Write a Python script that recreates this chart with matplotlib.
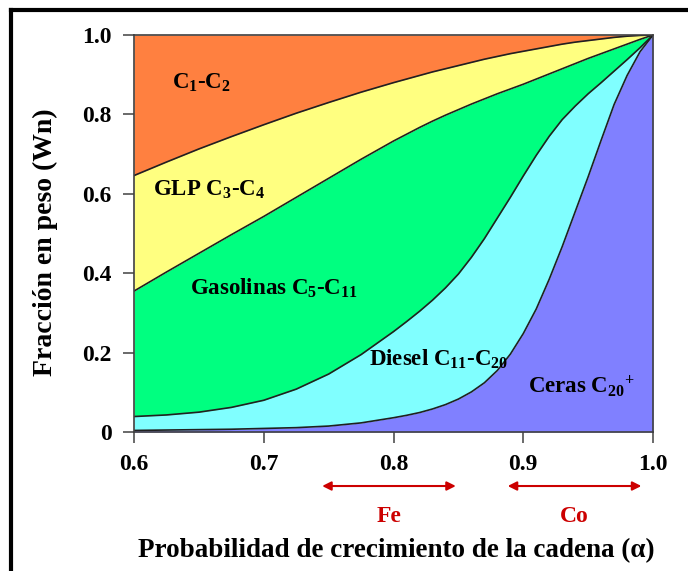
import matplotlib
matplotlib.use('Agg')
import matplotlib.pyplot as plt
from matplotlib.lines import Line2D
import matplotlib.transforms as mtransforms

plt.rcParams['font.family'] = ['Liberation Serif', 'DejaVu Serif']
plt.rcParams['font.weight'] = 'bold'
plt.rcParams['mathtext.fontset'] = 'custom'
plt.rcParams['mathtext.rm'] = 'Liberation Serif:bold'
plt.rcParams['mathtext.bf'] = 'Liberation Serif:bold'
plt.rcParams['mathtext.default'] = 'bf'

# chain growth probability (alpha)
alpha = [0.600, 0.625, 0.650, 0.675, 0.700, 0.725, 0.750, 0.775, 0.800,
         0.810, 0.820, 0.830, 0.840, 0.850, 0.860, 0.870, 0.880, 0.890, 0.900,
         0.910, 0.920, 0.930, 0.940, 0.950, 0.960, 0.970, 0.980, 0.990, 1.000]
# cumulative weight fraction boundaries
top_glp = [0.646, 0.680, 0.713, 0.744, 0.774, 0.803, 0.830, 0.856, 0.880,
           0.889, 0.898, 0.907, 0.915, 0.923, 0.931, 0.939, 0.946, 0.953, 0.959,
           0.965, 0.971, 0.977, 0.982, 0.986, 0.990, 0.994, 0.997, 0.999, 1.000]
top_gasol = [0.355, 0.403, 0.450, 0.497, 0.543, 0.591, 0.639, 0.687, 0.733,
             0.750, 0.767, 0.783, 0.798, 0.812, 0.826, 0.839, 0.852, 0.864, 0.876,
             0.889, 0.902, 0.915, 0.928, 0.941, 0.953, 0.965, 0.977, 0.989, 1.000]
top_diesel = [0.039, 0.043, 0.050, 0.062, 0.080, 0.108, 0.146, 0.195, 0.253,
              0.278, 0.304, 0.332, 0.363, 0.398, 0.440, 0.487, 0.539, 0.591, 0.645,
              0.697, 0.745, 0.787, 0.821, 0.852, 0.880, 0.909, 0.938, 0.968, 1.000]
top_ceras = [0.004, 0.005, 0.006, 0.007, 0.009, 0.011, 0.015, 0.023, 0.036,
             0.042, 0.049, 0.058, 0.069, 0.083, 0.101, 0.124, 0.155, 0.196, 0.248,
             0.310, 0.385, 0.467, 0.555, 0.643, 0.735, 0.825, 0.898, 0.958, 1.000]

x_ticks = [0.6, 0.7, 0.8, 0.9, 1.0]
x_tick_labels = ['0.6', '0.7', '0.8', '0.9', '1.0']
y_ticks = [0, 0.2, 0.4, 0.6, 0.8, 1.0]
y_tick_labels = ['0', '0.2', '0.4', '0.6', '0.8', '1.0']

fig = plt.figure(figsize=(6.88, 5.71), dpi=100)
ax = fig.add_axes([0.1948, 0.2434, 0.7544, 0.6953])

ones = [1.0] * len(alpha)
zeros = [0.0] * len(alpha)
ax.fill_between(alpha, zeros, top_ceras, color='#8080FF', lw=0)
ax.fill_between(alpha, top_ceras, top_diesel, color='#80FFFF', lw=0)
ax.fill_between(alpha, top_diesel, top_gasol, color='#00FF80', lw=0)
ax.fill_between(alpha, top_gasol, top_glp, color='#FFFF80', lw=0)
ax.fill_between(alpha, top_glp, ones, color='#FF8040', lw=0)
for curve in (top_ceras, top_diesel, top_gasol, top_glp):
    ax.plot(alpha, curve, color='#202020', lw=1.2)

ax.set_xlim(0.6, 1.0)
ax.set_ylim(0, 1.0)
ax.set_xticks(x_ticks)
ax.set_xticklabels(x_tick_labels)
ax.set_yticks(y_ticks)
ax.set_yticklabels(y_tick_labels)
ax.tick_params(direction='out', length=8, width=1.2, color='#505050',
               labelsize=17)
ax.tick_params(axis='x', pad=8)
ax.tick_params(axis='y', pad=8)
for lab in ax.get_xticklabels() + ax.get_yticklabels():
    lab.set_fontweight('bold')
for sp in ax.spines.values():
    sp.set_color('#404040')
    sp.set_linewidth(1.2)

fig.text(45 / 688, 1 - 242 / 571, 'Fracción en peso (Wn)', rotation=90,
         fontsize=20, fontweight='bold', ha='center', va='center')

# region labels
fs = 16.5
ax.text(0.629, 0.880, 'C$_1$-C$_2$', fontsize=fs, va='center')
ax.text(0.615, 0.610, 'GLP C$_3$-C$_4$', fontsize=fs, va='center')
ax.text(0.643, 0.362, 'Gasolinas C$_5$-C$_{11}$', fontsize=fs, va='center')
ax.text(0.781, 0.183, 'Diesel C$_{11}$-C$_{20}$', fontsize=fs, va='center')
ax.text(0.904, 0.115, 'Ceras C$_{20}$$^{+}$', fontsize=fs, va='center')

# catalyst ranges
trans = mtransforms.blended_transform_factory(ax.transData, ax.transAxes)
red = '#CC0000'
for x0, x1, name in [(0.745, 0.848, 'Fe'), (0.888, 0.991, 'Co')]:
    ax.annotate('', xy=(x0, -0.136), xytext=(x1, -0.136), xycoords=trans,
                textcoords=trans,
                arrowprops=dict(arrowstyle='<|-|>', color=red, lw=1.5,
                                mutation_scale=13, shrinkA=0, shrinkB=0),
                annotation_clip=False)
    ax.text((x0 + x1) / 2, -0.214, name, transform=trans, color=red,
            fontsize=17, ha='center', va='center', clip_on=False)

fig.text(396 / 688, 1 - 551 / 571,
         'Probabilidad de crecimiento de la cadena (α)',
         fontsize=19.5, ha='center', va='center', fontweight='bold')

# slide frame
fig.add_artist(Line2D([11 / 688, 1.0], [1 - 10 / 571, 1 - 10 / 571],
                      transform=fig.transFigure, color='black', lw=3))
fig.add_artist(Line2D([11 / 688, 11 / 688], [0, 1 - 10 / 571],
                      transform=fig.transFigure, color='black', lw=3))

fig.savefig('out.png', dpi=100)
